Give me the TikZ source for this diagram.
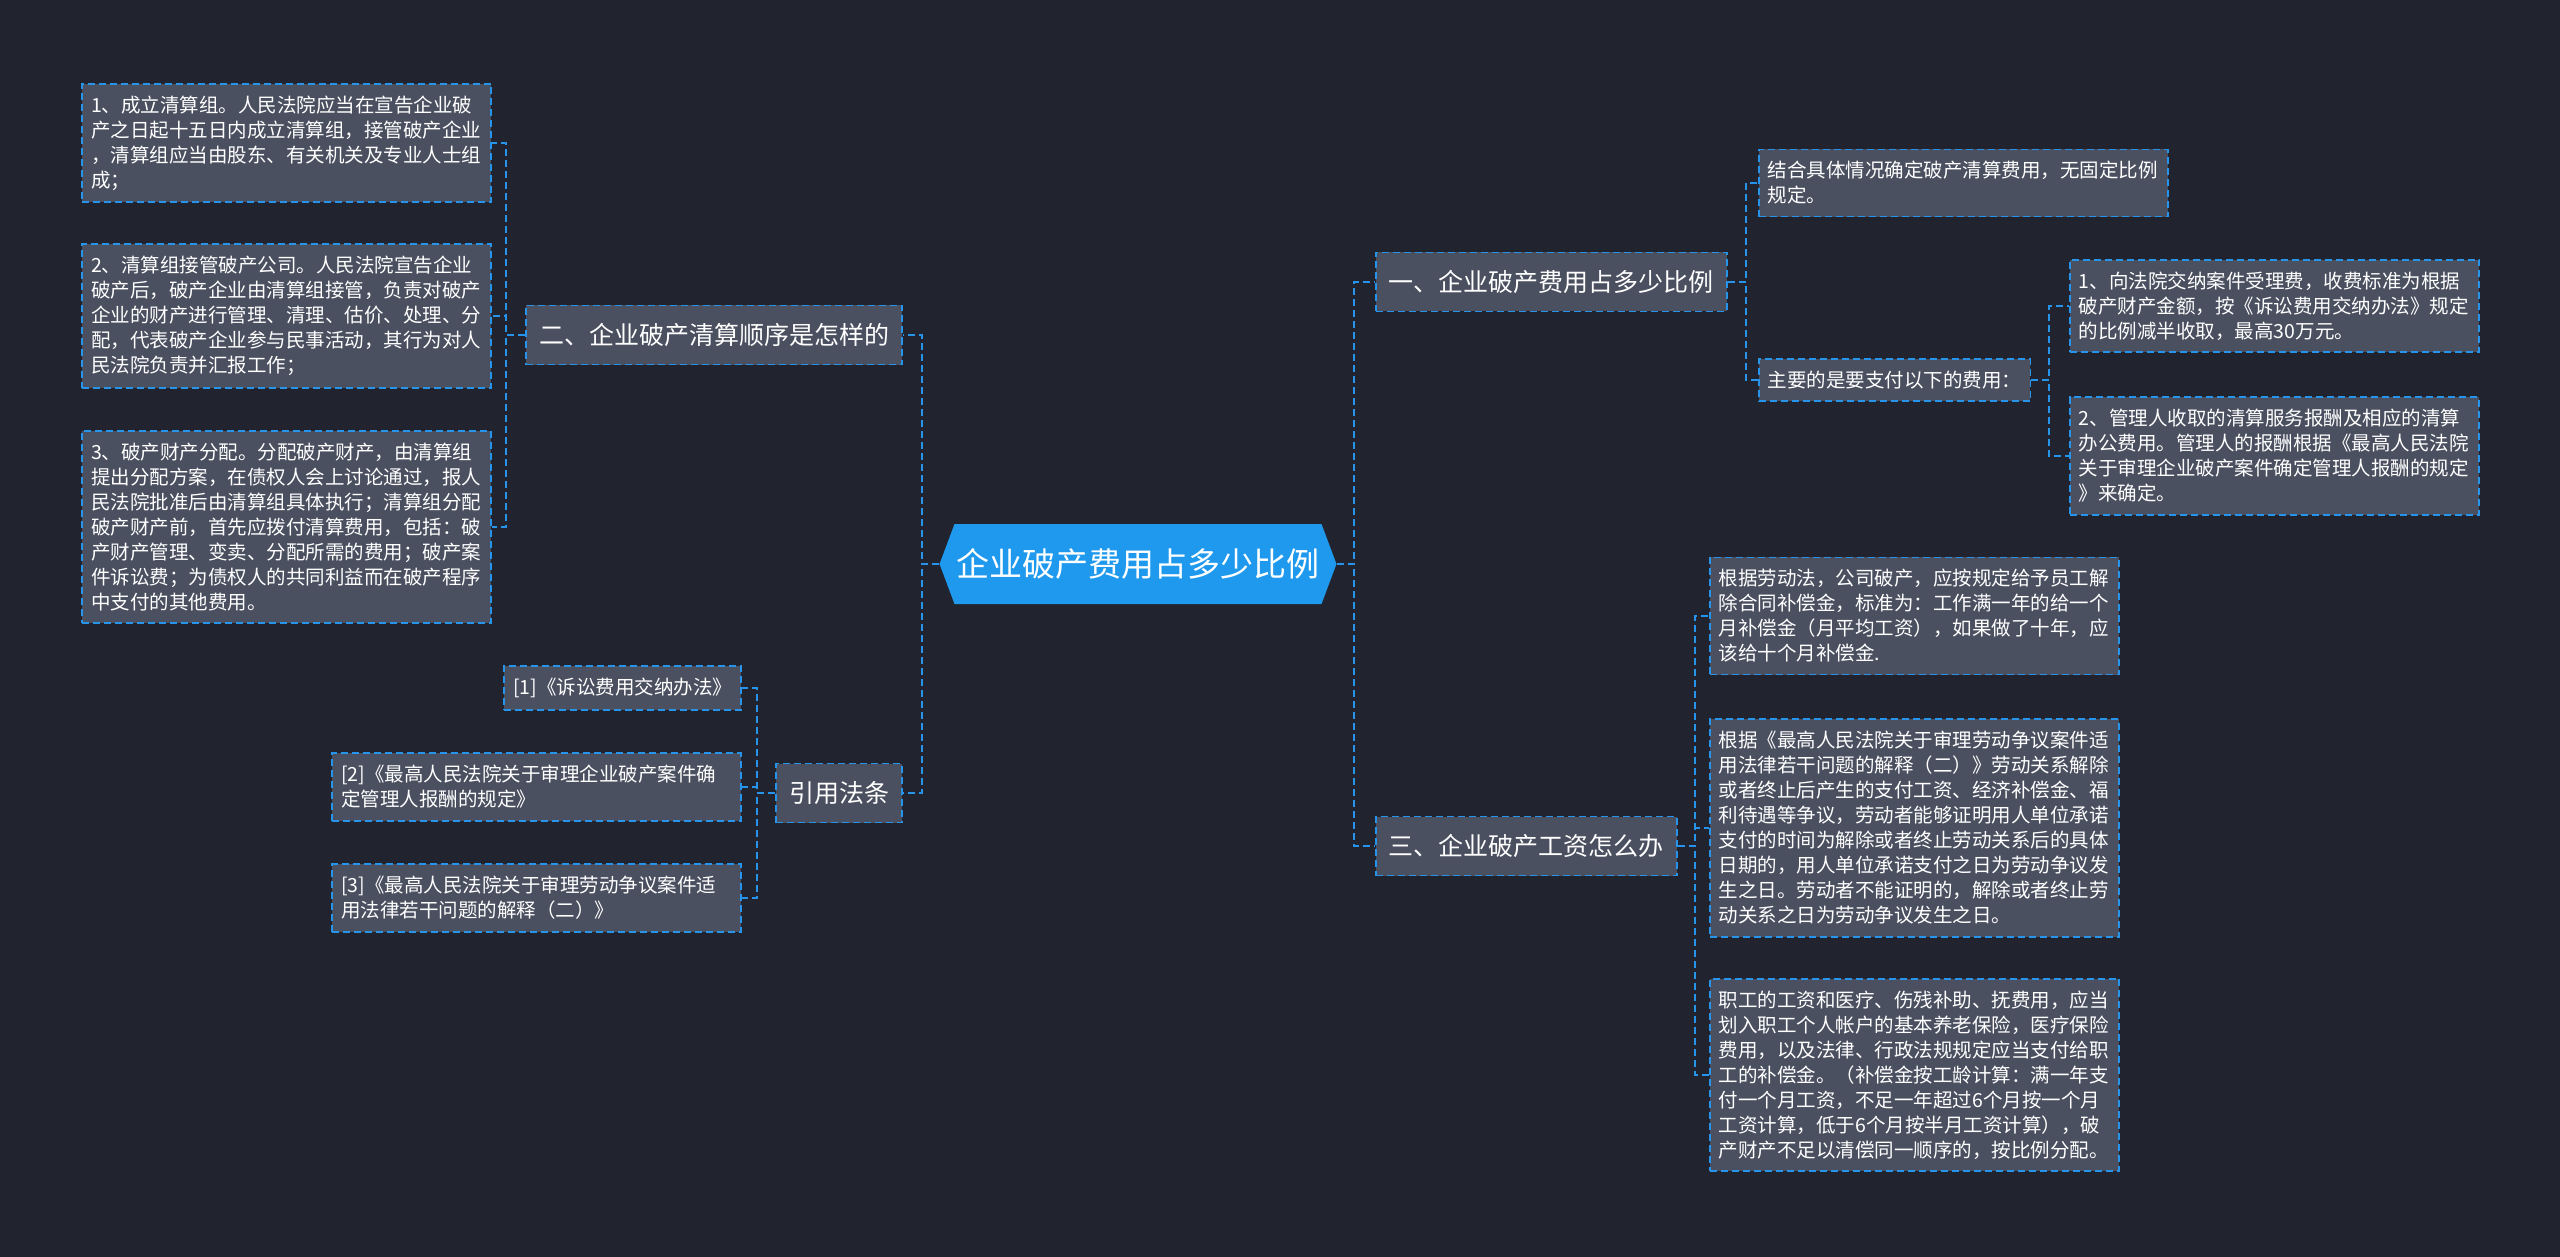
\documentclass[tikz,border=0pt]{standalone}
\usepackage{fontspec}
\setmainfont{Noto Sans CJK SC}
\usepackage{tikz}
\usetikzlibrary{shapes.symbols}
\definecolor{bgdark}{HTML}{21242E}
\definecolor{boxgray}{HTML}{4B5060}
\definecolor{lineblue}{HTML}{2594EA}
\definecolor{rootblue}{HTML}{1F99EE}
\tikzstyle{every node}=[text=white]
\tikzstyle{root}=[signal, signal to=west and east, signal pointer angle=139, fill=rootblue, minimum width=370pt, minimum height=80pt, inner xsep=2pt, font=\fontsize{33pt}{38pt}\selectfont]
\tikzstyle{topic}=[draw=lineblue, fill=boxgray, dash pattern=on 7pt off 4pt, line width=1.8pt, minimum height=59pt, inner xsep=13pt, font=\fontsize{25pt}{30pt}\selectfont]
\tikzstyle{leaf}=[draw=lineblue, fill=boxgray, dash pattern=on 7pt off 4pt, line width=1.8pt, inner xsep=9pt, inner ysep=12pt, align=left, font=\fontsize{19.5pt}{25pt}\selectfont]
\tikzstyle{wide}=[leaf, text width=391pt]
\tikzstyle{link}=[draw=lineblue, dash pattern=on 7pt off 4pt, line width=1.8pt]

\begin{document}
\begin{tikzpicture}[x=1pt, y=-1pt]
\fill[bgdark] (0,0) rectangle (2560,1257);

\node[root] (root) at (1138,564) {企业破产费用占多少比例};

\node[topic, anchor=east] (clear) at (903,335) {二、企业破产清算顺序是怎样的};
\node[topic, anchor=east] (laws) at (903,793) {引用法条};
\node[topic, anchor=west] (ratio) at (1375,282) {一、企业破产费用占多少比例};
\node[topic, anchor=west] (wage) at (1375,846) {三、企业破产工资怎么办};

\node[wide, anchor=east] (step1) at (492,143) {1、成立清算组。人民法院应当在宣告企业破\\产之日起十五日内成立清算组，接管破产企业\\，清算组应当由股东、有关机关及专业人士组\\成；};
\node[wide, anchor=east] (step2) at (492,316) {2、清算组接管破产公司。人民法院宣告企业\\破产后，破产企业由清算组接管，负责对破产\\企业的财产进行管理、清理、估价、处理、分\\配，代表破产企业参与民事活动，其行为对人\\民法院负责并汇报工作；};
\node[wide, anchor=east] (step3) at (492,527) {3、破产财产分配。分配破产财产，由清算组\\提出分配方案，在债权人会上讨论通过，报人\\民法院批准后由清算组具体执行；清算组分配\\破产财产前，首先应拨付清算费用，包括：破\\产财产管理、变卖、分配所需的费用；破产案\\件诉讼费；为债权人的共同利益而在破产程序\\中支付的其他费用。};

\node[leaf, anchor=east] (law1) at (742,688) {[1]《诉讼费用交纳办法》};
\node[wide, anchor=east] (law2) at (742,787) {[2]《最高人民法院关于审理企业破产案件确\\定管理人报酬的规定》};
\node[wide, anchor=east] (law3) at (742,898) {[3]《最高人民法院关于审理劳动争议案件适\\用法律若干问题的解释（二）》};

\node[wide, anchor=west] (fix) at (1758,183) {结合具体情况确定破产清算费用，无固定比例\\规定。};
\node[leaf, anchor=west] (pay) at (1758,380) {主要的是要支付以下的费用：};
\node[wide, anchor=west] (fee1) at (2069,306) {1、向法院交纳案件受理费，收费标准为根据\\破产财产金额，按《诉讼费用交纳办法》规定\\的比例减半收取，最高30万元。};
\node[wide, anchor=west] (fee2) at (2069,456) {2、管理人收取的清算服务报酬及相应的清算\\办公费用。管理人的报酬根据《最高人民法院\\关于审理企业破产案件确定管理人报酬的规定\\》来确定。};

\node[wide, anchor=west] (comp1) at (1709,616) {根据劳动法，公司破产，应按规定给予员工解\\除合同补偿金，标准为：工作满一年的给一个\\月补偿金（月平均工资），如果做了十年，应\\该给十个月补偿金.};
\node[wide, anchor=west] (comp2) at (1709,828) {根据《最高人民法院关于审理劳动争议案件适\\用法律若干问题的解释（二）》劳动关系解除\\或者终止后产生的支付工资、经济补偿金、福\\利待遇等争议，劳动者能够证明用人单位承诺\\支付的时间为解除或者终止劳动关系后的具体\\日期的，用人单位承诺支付之日为劳动争议发\\生之日。劳动者不能证明的，解除或者终止劳\\动关系之日为劳动争议发生之日。};
\node[wide, anchor=west] (comp3) at (1709,1075) {职工的工资和医疗、伤残补助、抚费用，应当\\划入职工个人帐户的基本养老保险，医疗保险\\费用，以及法律、行政法规规定应当支付给职\\工的补偿金。（补偿金按工龄计算：满一年支\\付一个月工资，不足一年超过6个月按一个月\\工资计算，低于6个月按半月工资计算），破\\产财产不足以清偿同一顺序的，按比例分配。};

\draw[link] (root.west) -- ++(-17,0) |- (clear.east);
\draw[link] (root.west) -- ++(-17,0) |- (laws.east);
\draw[link] (root.east) -- ++(17,0) |- (ratio.west);
\draw[link] (root.east) -- ++(17,0) |- (wage.west);
\foreach \n in {step1,step2,step3} \draw[link] (clear.west) -- ++(-19,0) |- (\n.east);
\foreach \n in {law1,law2,law3} \draw[link] (laws.west) -- ++(-18,0) |- (\n.east);
\foreach \n in {fix,pay} \draw[link] (ratio.east) -- ++(18,0) |- (\n.west);
\foreach \n in {fee1,fee2} \draw[link] (pay.east) -- ++(18,0) |- (\n.west);
\foreach \n in {comp1,comp2,comp3} \draw[link] (wage.east) -- ++(17,0) |- (\n.west);
\end{tikzpicture}
\end{document}
